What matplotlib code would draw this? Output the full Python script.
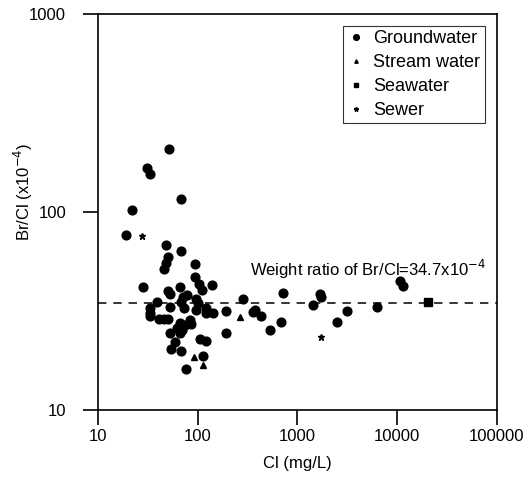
import matplotlib
matplotlib.use("Agg")
import matplotlib.pyplot as plt

plt.rcParams['font.family'] = ['Liberation Sans', 'DejaVu Sans']
plt.rcParams['axes.unicode_minus'] = False

# groundwater samples: Cl (mg/L) and Br/Cl (x10^-4)
gw_cl = [51.1, 30.7, 33.2, 68.2, 22.1, 19.3, 47.7, 68.5, 50.3, 48.5,
         45.9, 94.8, 94.8, 28.2, 65.9, 50.3, 53.2, 102.3, 111.5, 139.2,
         71.2, 78.1, 68.5, 97.0, 100.7, 39.0, 32.9, 32.9, 32.9, 53.2,
         72.8, 95.5, 120.3, 122.3, 142.5, 40.8, 45.5, 50.3, 65.9, 74.0,
         83.1, 86.4, 62.5, 65.9, 70.2, 52.3, 58.7, 104.7, 120.3, 54.4,
         68.5, 113.1, 75.7, 720, 285, 194, 360, 374, 427, 529,
         691, 191, 1441, 1683, 1711, 2512, 3122, 6252, 10720, 11310]
gw_ratio = [208, 166.8, 155.6, 116.9, 102.3, 76.3, 68.1, 63.2, 59.3, 55.4,
            51.7, 54.4, 46.9, 41.9, 41.9, 40.0, 38.5, 43.3, 40.4, 42.8,
            37.1, 38.1, 35.2, 36.2, 34.6, 35.2, 32.9, 31.0, 29.8, 33.2,
            32.6, 32.0, 32.6, 30.8, 30.8, 28.8, 28.7, 28.8, 27.4, 26.9,
            28.5, 27.2, 25.9, 24.4, 25.4, 24.6, 22.1, 22.8, 22.4, 20.3,
            19.9, 18.7, 16.1, 38.9, 36.3, 31.6, 31.4, 32.0, 29.8, 25.5,
            27.9, 24.4, 33.9, 38.4, 37.3, 27.9, 31.6, 33.2, 45.0, 42.3]

stream_cl = [91.8, 114.1, 264]
stream_ratio = [18.6, 16.9, 29.4]

sea_cl = [20160]
sea_ratio = [35.2]

sewer_cl = [1711, 27.6]
sewer_ratio = [23.5, 75.6]

seawater_weight_ratio = 34.7

fig = plt.figure(figsize=(5.30, 4.83), dpi=100)
ax = fig.add_axes([0.1849, 0.1511, 0.7528, 0.8199])

ax.plot(gw_cl, gw_ratio, 'o', color='black', markersize=6.3, linestyle='none', label='Groundwater')
ax.plot(stream_cl, stream_ratio, '^', color='black', markersize=3.8, linestyle='none', label='Stream water')
ax.plot(sea_cl, sea_ratio, 's', color='black', markersize=5.2, linestyle='none', label='Seawater')
ax.plot(sewer_cl, sewer_ratio, '*', color='black', markersize=5, linestyle='none', label='Sewer')

ax.axhline(seawater_weight_ratio, color='black', linestyle=(0, (5.5, 4.5)), linewidth=1.1)
ax.text(335, 51.5, 'Weight ratio of Br/Cl=34.7x10$^{-4}$', fontsize=12, ha='left', va='center')

ax.set_xscale('log')
ax.set_yscale('log')
ax.set_xlim(10, 100000)
ax.set_ylim(10, 1000)
ax.set_xticks([10, 100, 1000, 10000, 100000])
ax.set_xticklabels(['10', '100', '1000', '10000', '100000'])
ax.set_yticks([10, 100, 1000])
ax.set_yticklabels(['10', '100', '1000'])
ax.minorticks_off()
ax.tick_params(axis='x', direction='out', length=11, width=1.2, pad=3, labelsize=12)
ax.tick_params(axis='y', direction='out', length=11, width=1.2, pad=12, labelsize=12)
for s in ax.spines.values():
    s.set_linewidth(1.2)

ax.set_xlabel('Cl (mg/L)', fontsize=12, labelpad=8)
ax.set_ylabel('Br/Cl (x10$^{-4}$)', fontsize=12)
ax.yaxis.set_label_coords(-0.157, 0.55)

leg = ax.legend(loc='upper right', bbox_to_anchor=(0.97, 0.97), borderaxespad=0, fontsize=13,
                frameon=True, fancybox=False, edgecolor='black', labelspacing=0.38,
                handlelength=1.0, handletextpad=0.45, borderpad=0.25, markerscale=0.65)
leg.get_frame().set_linewidth(0.8)

fig.savefig('out.png', dpi=100)
